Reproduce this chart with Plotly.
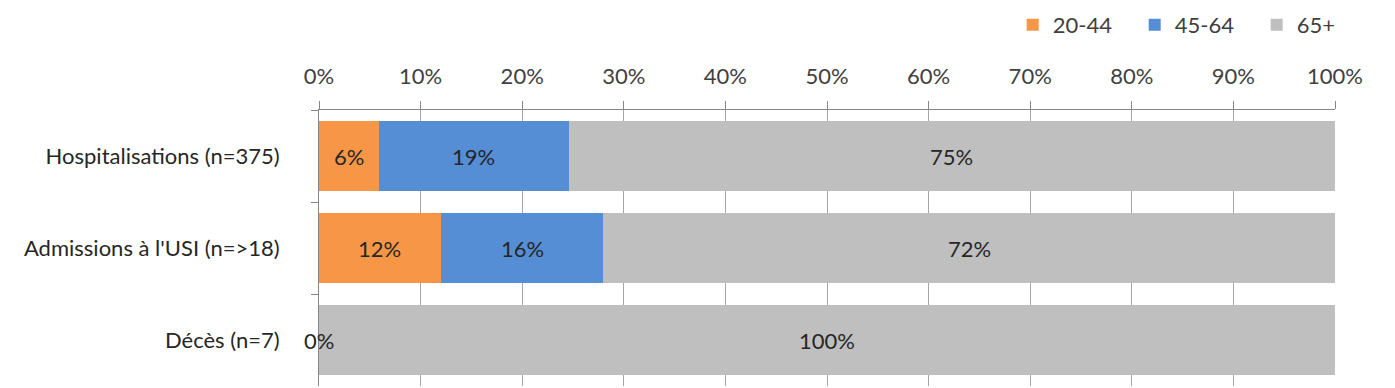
import plotly.graph_objects as go

categories = ["Hospitalisations (n=375)", "Admissions à l'USI (n=>18)", "Décès (n=7)"]
series_names = ["20-44", "45-64", "65+"]
pct_20_44 = [5.9, 12.0, 0.0]
pct_45_64 = [18.7, 16.0, 0.0]
pct_65_plus = [75.4, 72.0, 100.0]
colors = ["#F79646", "#558ED5", "#BFBFBF"]
x_ticks = list(range(0, 101, 10))

FONT = "Lato, 'Open Sans', sans-serif"
FS = 22
series = [pct_20_44, pct_45_64, pct_65_plus]

fig = go.Figure()
for name, vals, col in zip(series_names, series, colors):
    fig.add_trace(go.Bar(
        y=categories, x=vals, name=name, orientation="h",
        marker=dict(color=col, line=dict(width=0)),
        hoverinfo="x+y+name",
    ))

# data labels (centered on each segment, including zero-width ones)
starts = [0.0] * len(categories)
labelled = set()
for vals in series:
    for i, (cat, v) in enumerate(zip(categories, vals)):
        cx = starts[i] + v / 2
        key = (i, round(cx, 3))
        if key not in labelled:
            labelled.add(key)
            fig.add_annotation(
                x=cx, y=cat, xref="x", yref="y",
                text=f"{round(v)}%", showarrow=False,
                font=dict(family=FONT, size=FS, color="#262626"),
            )
        starts[i] += v

fig.update_layout(
    width=1395, height=388,
    barmode="stack", bargap=0.23,
    margin=dict(l=319, r=60, t=110, b=2),
    plot_bgcolor="white", paper_bgcolor="white",
    font=dict(family=FONT, size=FS, color="#404040"),
    legend=dict(
        orientation="h", x=1.043, xanchor="right", y=1.308, yanchor="middle",
        font=dict(family=FONT, size=FS, color="#404040"),
        traceorder="normal", itemwidth=30,
        entrywidth=77, entrywidthmode="pixels",
    ),
    xaxis=dict(
        side="top", range=[0, 100], tickvals=x_ticks,
        ticktext=[f"{t}%" for t in x_ticks],
        showgrid=True, gridcolor="#A6A6A6", gridwidth=1,
        showline=True, linecolor="#868686", linewidth=1,
        ticks="outside", ticklen=8, tickcolor="#868686",
        ticklabelstandoff=8,
        zeroline=False, fixedrange=True,
        tickfont=dict(family=FONT, size=FS, color="#404040"),
    ),
    yaxis=dict(
        autorange="reversed", type="category",
        showline=True, linecolor="#868686", linewidth=1,
        ticks="outside", ticklen=7, tickcolor="#868686",
        tickson="boundaries", showgrid=False,
        ticklabelstandoff=34,
        tickfont=dict(family=FONT, size=FS, color="#262626"),
        fixedrange=True,
    ),
)

fig.write_html("out.html")
